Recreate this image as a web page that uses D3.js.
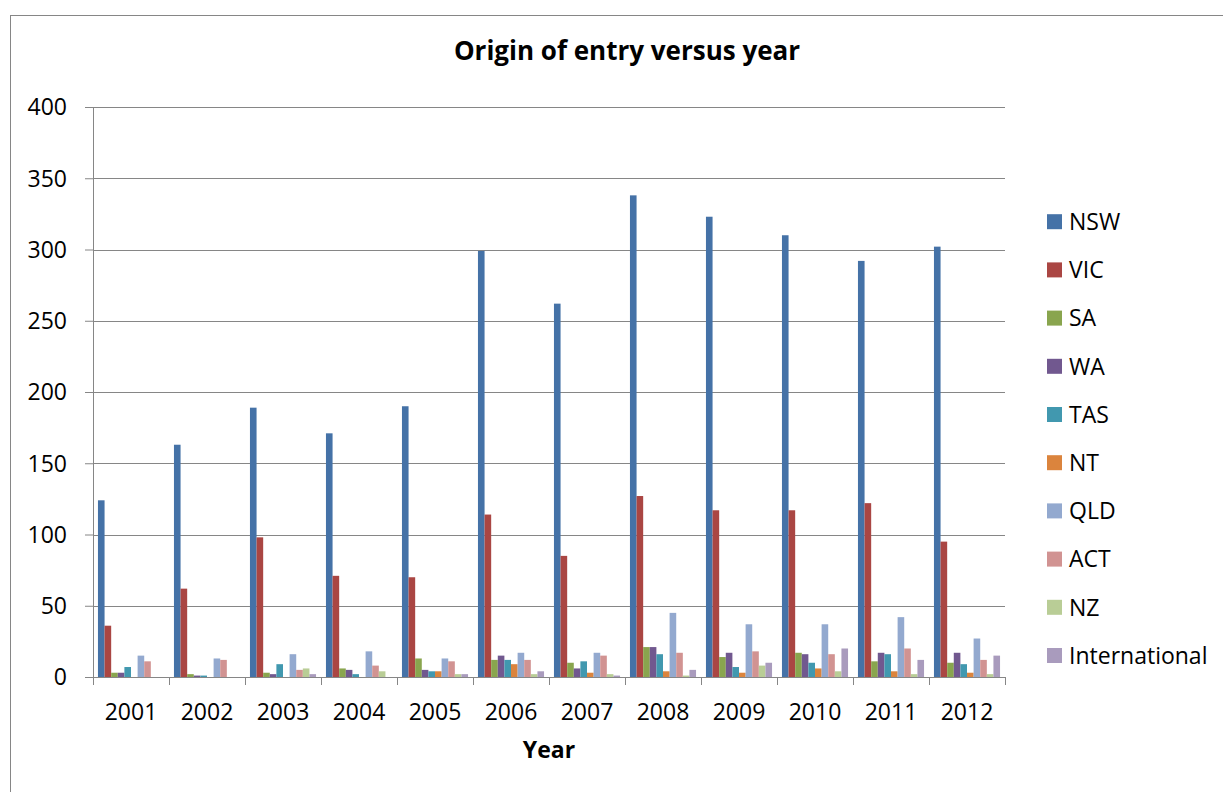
<!DOCTYPE html>
<html>
<head>
<meta charset="utf-8">
<script src="https://cdn.jsdelivr.net/npm/d3@7"></script>
<style>
  body { margin: 0; background: #fff; }
  text { font-family: "Open Sans", Lato, sans-serif; fill: #000; }
</style>
</head>
<body>
<div class="chart"></div>
<script>
const years = ['2001','2002','2003','2004','2005','2006','2007','2008','2009','2010','2011','2012'];
const origins = ['NSW','VIC','SA','WA','TAS','NT','QLD','ACT','NZ','International'];
const NSW = [124,163,189,171,190,299,262,338,323,310,292,302];
const VIC = [36,62,98,71,70,114,85,127,117,117,122,95];
const SA  = [3,2,3,6,13,12,10,21,14,17,11,10];
const WA  = [3,1,2,5,5,15,6,21,17,16,17,17];
const TAS = [7,1,9,2,4,12,11,16,7,10,16,9];
const NT  = [0,0,0,0,4,9,3,4,3,6,4,3];
const QLD = [15,13,16,18,13,17,17,45,37,37,42,27];
const ACT = [11,12,5,8,11,12,15,17,18,16,20,12];
const NZ  = [0,0,6,4,2,2,2,1,8,4,2,2];
const International = [0,0,2,0,2,4,1,5,10,20,12,15];
const yTicks = [0,50,100,150,200,250,300,350,400];

const seriesValues = {NSW, VIC, SA, WA, TAS, NT, QLD, ACT, NZ, International};
const colors = ['#4572A7','#AA4643','#89A54E','#71588F','#4198AF','#DB843D','#93A9CF','#D19392','#B9CD96','#A99BBD'];

const W = 1223, H = 792;
const margin = {top: 107, right: 218, bottom: 115, left: 93};
const width = W - margin.left - margin.right;
const height = H - margin.top - margin.bottom;

const svg = d3.select('.chart').append('svg')
  .attr('width', W)
  .attr('height', H);

// outer chart border
svg.append('rect')
  .attr('x', 10.5).attr('y', 15.5)
  .attr('width', 1220).attr('height', 800)
  .attr('fill', 'none')
  .attr('stroke', '#868686');

const g = svg.append('g')
  .attr('transform', `translate(${margin.left},${margin.top})`);

const x0 = d3.scaleBand().domain(years).range([0, width]);
const x1 = d3.scaleBand().domain(origins).range([0, x0.bandwidth()])
  .paddingInner(0).paddingOuter(0.75);
const y = d3.scaleLinear().domain([0, 400]).range([height, 0]);
const color = d3.scaleOrdinal().domain(origins).range(colors);

// gridlines
g.selectAll('.grid')
  .data(yTicks.filter(d => d > 0))
  .enter().append('line')
  .attr('x1', 0).attr('x2', width)
  .attr('y1', d => Math.round(y(d)) + 0.5)
  .attr('y2', d => Math.round(y(d)) + 0.5)
  .attr('stroke', '#868686');

// bars
const groups = g.selectAll('.year')
  .data(years)
  .enter().append('g')
  .attr('transform', d => `translate(${x0(d)},0)`);

groups.selectAll('rect')
  .data((d, i) => origins.map(o => ({origin: o, value: seriesValues[o][i]})))
  .enter().append('rect')
  .attr('x', d => x1(d.origin))
  .attr('width', x1.bandwidth())
  .attr('y', d => y(d.value))
  .attr('height', d => height - y(d.value))
  .attr('fill', d => color(d.origin));

// y axis
const yAxis = d3.axisLeft(y).tickValues(yTicks).tickSize(8).tickPadding(18);
const ya = g.append('g').attr('class', 'axis y-axis').call(yAxis);
ya.select('.domain').attr('stroke', '#868686').attr('d', `M0.5,0V${height}`);
ya.selectAll('.tick line').attr('stroke', '#868686');
ya.selectAll('text').style('font-size', '23px').attr('dy', '0.34em');

// x axis
const xAxis = d3.axisBottom(x0).tickSize(0).tickPadding(0);
const xa = g.append('g').attr('class', 'axis x-axis')
  .attr('transform', `translate(0,${height})`)
  .call(xAxis);
xa.select('.domain').attr('stroke', '#868686').attr('d', `M0,0.5H${width}`);
xa.selectAll('text').style('font-size', '23px').attr('y', 43).attr('dy', 0);
xa.selectAll('.sep')
  .data(d3.range(years.length + 1))
  .enter().append('line')
  .attr('x1', i => Math.round(i * x0.step()) + 0.5)
  .attr('x2', i => Math.round(i * x0.step()) + 0.5)
  .attr('y1', 0).attr('y2', 8)
  .attr('stroke', '#868686');

// titles
svg.append('text')
  .attr('x', 627).attr('y', 60)
  .attr('text-anchor', 'middle')
  .style('font-size', '26px').style('font-weight', 'bold')
  .text('Origin of entry versus year');

svg.append('text')
  .attr('x', margin.left + width / 2).attr('y', 758)
  .attr('text-anchor', 'middle')
  .style('font-size', '23px').style('font-weight', 'bold')
  .text('Year');

// legend
const legend = svg.selectAll('.legend')
  .data(origins)
  .enter().append('g')
  .attr('class', 'legend')
  .attr('transform', (d, i) => `translate(1047,${221.7 + i * 48.2})`);

legend.append('rect')
  .attr('x', 0).attr('y', -7.5)
  .attr('width', 15).attr('height', 15)
  .attr('fill', d => color(d));

legend.append('text')
  .attr('x', 22).attr('y', 0)
  .attr('dy', '0.36em')
  .style('font-size', '23px')
  .text(d => d);
</script>
</body>
</html>
